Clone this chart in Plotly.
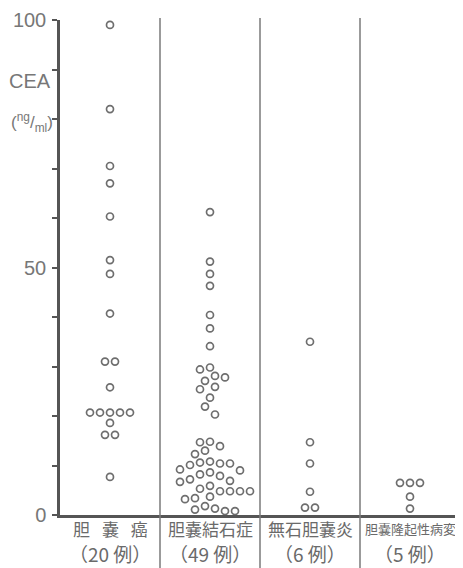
import plotly.graph_objects as go

# ---- data ----
categories = ["胆\u2002\u2009嚢\u2002\u2009癌", "胆嚢結石症", "無石胆嚢炎", "胆嚢隆起性病変"]
case_counts = ["（20 例）", "（49 例）", "（6 例）", "（5 例）"]

cea_cancer = [99.0, 82.0, 70.5, 67.0, 60.3, 51.5, 48.7, 40.7, 31.0, 31.0,
              25.8, 20.7, 20.7, 20.7, 20.7, 20.7, 18.6, 16.2, 16.2, 7.7]
cea_stone = [61.2, 51.2, 48.7, 46.3, 40.4, 37.7, 34.1, 29.8, 29.4, 28.1,
             27.8, 27.1, 25.9, 25.4, 23.7, 21.9, 20.3, 14.8, 14.7, 13.9,
             13.0, 12.3, 10.8, 10.6, 10.4, 10.4, 10.1, 9.2, 9.0, 8.6,
             8.2, 7.9, 7.2, 6.9, 6.7, 5.9, 5.3, 4.8, 4.8, 4.8,
             4.8, 3.7, 3.4, 3.2, 1.8, 1.3, 1.1, 0.8, 0.8]
cea_acalculous = [35.0, 14.7, 10.4, 4.7, 1.5, 1.5]
cea_polypoid = [6.5, 6.5, 6.5, 3.7, 1.3]

series = [cea_cancer, cea_stone, cea_acalculous, cea_polypoid]

# ---- layout geometry (page pixels; the page body adds an 8px offset) ----
OFF = 8
PAGE_W, PAGE_H = 463, 568
W, H = PAGE_W - OFF, PAGE_H - OFF
PLOT_L, PLOT_R, PLOT_T, PLOT_B = 60, 463, 20, 515   # in page pixels
M_L, M_T = PLOT_L - OFF, PLOT_T - OFF
M_R, M_B = (PAGE_W - PLOT_R), (PAGE_H - PLOT_B)
X_RANGE = [-0.5, 3.53]
Y_RANGE = [0, 100]
px_per_x = (PLOT_R - PLOT_L) / (X_RANGE[1] - X_RANGE[0])
px_per_y = (PLOT_B - PLOT_T) / (Y_RANGE[1] - Y_RANGE[0])

DIAM = 9.5   # minimum centre distance in px
STEP = 5.0   # horizontal grid in px


def beeswarm(values, centre):
    """Dot-plot layout: ties side by side, others nudged to avoid overlap."""
    placed = []
    order = sorted(set(values), reverse=True)
    for v in order:
        n = values.count(v)
        yp = v * px_per_y
        base = [(i - (n - 1) / 2) * 2 * STEP for i in range(n)]
        shifts = [0.0]
        for k in range(1, 12):
            shifts += [-k * STEP, k * STEP]
        chosen = base
        for s in shifts:
            cand = [b + s for b in base]
            ok = all(((cx - px) ** 2 + (yp - py) ** 2) ** 0.5 >= DIAM
                     for cx in cand for (px, py) in placed)
            if ok:
                chosen = cand
                break
        placed += [(cx, yp) for cx in chosen]
    xs = [centre + p[0] / px_per_x for p in placed]
    ys = [p[1] / px_per_y for p in placed]
    return xs, ys


fig = go.Figure()
for i, vals in enumerate(series):
    xs, ys = beeswarm(vals, i)
    fig.add_trace(go.Scatter(
        x=xs, y=ys, mode="markers",
        marker=dict(symbol="circle-open", size=7, color="#6e6e6e",
                    line=dict(width=1.7, color="#6e6e6e")),
        showlegend=False, hoverinfo="y"))


def px_to_paper(xp, yp):
    """page pixel -> paper fraction"""
    return ((xp - PLOT_L) / (PLOT_R - PLOT_L), 1 - (yp - PLOT_T) / (PLOT_B - PLOT_T))


shapes = []
_, ytop = px_to_paper(0, 18)
_, ybot = px_to_paper(0, PAGE_H + 2)
for xb in [0.5, 1.5, 2.5]:
    shapes.append(dict(type="line", xref="x", yref="paper",
                       x0=xb, x1=xb, y0=ybot, y1=ytop,
                       line=dict(color="#7a7a7a", width=1.5)))

annotations = []
lbl_font = "Noto Sans CJK JP"
_, y1 = px_to_paper(0, 528)
_, y2 = px_to_paper(0, 553)
label_sizes = [17, 17, 17, 13]
for i, (c, n) in enumerate(zip(categories, case_counts)):
    annotations.append(dict(x=i, y=y1, xref="x", yref="paper",
                            text=c, showarrow=False, yanchor="middle",
                            font=dict(family=lbl_font, size=label_sizes[i], color="#6a6a6a")))
    annotations.append(dict(x=i, y=y2, xref="x", yref="paper",
                            text=n, showarrow=False, yanchor="middle",
                            font=dict(family=lbl_font, size=19, color="#6a6a6a")))

num_font = "Liberation Sans, Arial, sans-serif"
ax, ay = px_to_paper(30, 81)
annotations.append(dict(x=ax, y=ay, xref="paper", yref="paper", text="CEA",
                        showarrow=False, xanchor="center", yanchor="middle",
                        font=dict(family=num_font, size=20, color="#777777")))
ax, ay = px_to_paper(32, 122)
annotations.append(dict(x=ax, y=ay, xref="paper", yref="paper",
                        text="(<sup>ng</sup>/<sub>ml</sub>)",
                        showarrow=False, xanchor="center", yanchor="middle",
                        font=dict(family=num_font, size=17, color="#777777")))

fig.update_layout(
    width=W, height=H,
    margin=dict(l=M_L, r=M_R, t=M_T, b=M_B, pad=0, autoexpand=False),
    paper_bgcolor="white", plot_bgcolor="white",
    xaxis=dict(range=X_RANGE, showgrid=False, zeroline=False, automargin=False,
               showticklabels=False, ticks="",
               showline=True, linecolor="#555555", linewidth=3),
    yaxis=dict(range=Y_RANGE, showgrid=False, zeroline=False, automargin=False,
               tickvals=[0, 50, 100], ticktext=["0", "50", "100"],
               ticks="outside", ticklen=5, tickwidth=1.5, tickcolor="#555555",
               minor=dict(dtick=10, ticks="outside", ticklen=5,
                          tickwidth=1.5, tickcolor="#555555", showgrid=False),
               ticklabelstandoff=2,
               tickfont=dict(family=num_font, size=20, color="#777777"),
               showline=True, linecolor="#555555", linewidth=2.5),
    shapes=shapes,
    annotations=annotations,
)

fig.write_html("out.html")
